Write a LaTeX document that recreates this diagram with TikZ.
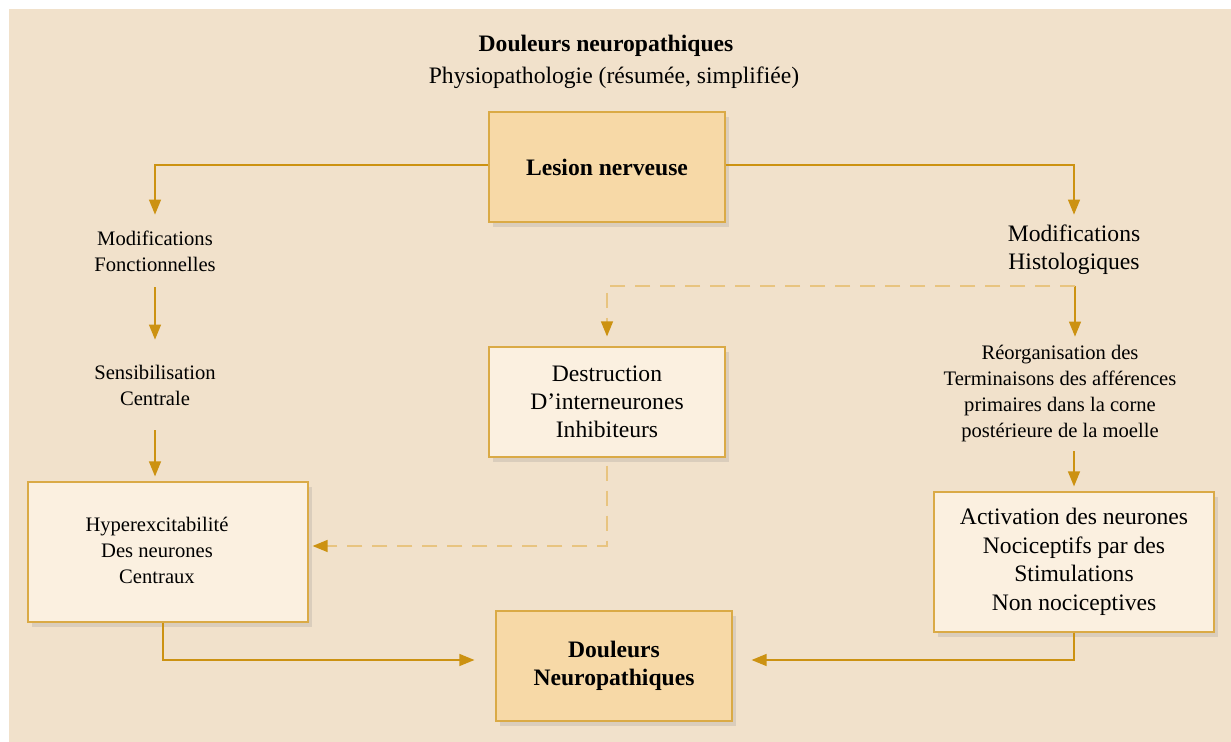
\documentclass[tikz,border=0pt]{standalone}
\usepackage{fontspec}
\setmainfont{Liberation Serif}
\usetikzlibrary{arrows.meta,positioning,shadows}
\definecolor{bgsand}{RGB}{241,225,203}
\definecolor{boxgold}{RGB}{247,217,167}
\definecolor{boxcream}{RGB}{251,240,224}
\definecolor{edgegold}{RGB}{218,170,70}
\definecolor{linegold}{RGB}{204,146,18}
\definecolor{dashgold}{RGB}{232,196,128}

\begin{document}
\begin{tikzpicture}[
  x=0.5pt, y=-0.5pt,
  keybox/.style={draw=edgegold, line width=0.6pt, fill=boxgold, align=center, minimum width=118pt, minimum height=55pt, font=\fontsize{11.8}{14}\selectfont\bfseries, drop shadow={shadow xshift=2pt, shadow yshift=-2.5pt, opacity=.2}},
  notebox/.style={keybox, fill=boxcream, font=\fontsize{11.8}{14}\selectfont},
  lbl/.style={align=center, inner sep=0pt, font=\fontsize{10.3}{13}\selectfont},
  link/.style={draw=linegold, line width=0.65pt, -{Triangle[width=6pt,length=7.5pt]}},
  dlink/.style={link, draw=dashgold, dash pattern=on 7.5pt off 5pt, -{Triangle[width=6pt,length=7.5pt,color=linegold]}},
]
\useasboundingbox (0,0) rectangle (1231,742);
\fill[white] (0,0) rectangle (1231,742);
\fill[bgsand] (9,9) rectangle (1231,742);

\node[font=\fontsize{11.8}{14}\selectfont\bfseries] (title) at (606,46) {Douleurs neuropathiques};
\node[font=\fontsize{11.8}{14}\selectfont, below=-2pt of title, xshift=4pt] (sub) {Physiopathologie (résumée, simplifiée)};

\node[keybox] (les) at (607,167) {Lesion nerveuse};
\node[lbl, minimum height=36pt] (modf) at (155,251) {Modifications\\Fonctionnelles};
\node[lbl, minimum height=35pt, font=\fontsize{11.8}{14}\selectfont] (modh) at (1074,250) {Modifications\\Histologiques};
\node[lbl, minimum height=45pt] (sens) at (155,385) {Sensibilisation\\Centrale};
\node[notebox] (destr) at (607,402) {Destruction\\D’interneurones\\Inhibiteurs};
\node[lbl, minimum height=57pt] (reorg) at (1060,394) {Réorganisation des\\Terminaisons des afférences\\primaires dans la corne\\postérieure de la moelle};
\node[notebox, minimum width=140pt, minimum height=70pt, font=\fontsize{10.3}{13}\selectfont] (hyper) at (168,552) {\raisebox{-2.5pt}{\begin{tabular}{@{}c@{}}Hyperexcitabilité\\Des neurones\\Centraux\end{tabular}}\hspace{11pt}};
\node[notebox, minimum width=140pt, minimum height=70pt, font=\fontsize{11.8}{14.25}\selectfont] (activ) at (1074,562) {Activation des neurones\\Nociceptifs par des\\Stimulations\\Non nociceptives};
\node[keybox] (doul) at (614,666) {Douleurs\\Neuropathiques};
\coordinate (split) at (1075,286);

\draw[link] ([yshift=1pt]les.west) -| (modf.north);
\draw[link] ([yshift=1pt]les.east) -| (modh.north);
\draw[link] (modf.south) -- (sens.north);
\draw[link, shorten >=2.5pt] (sens.south) -- (sens.south |- hyper.north);
\draw[link] (split) -- (split |- reorg.north);
\draw[dlink, shorten >=5pt] (split) -| (destr.north);
\draw[link, shorten >=2.5pt] (reorg.south -| activ.north) -- (activ.north);
\draw[dlink, shorten <=4pt, shorten >=2pt] (destr.south) |- ([yshift=3pt]hyper.east);
\draw[link, shorten >=10.5pt] ([xshift=-2.5pt]hyper.south) |- ([yshift=3pt]doul.west);
\draw[link, shorten >=9.5pt] (activ.south) |- ([yshift=3pt]doul.east);
\end{tikzpicture}
\end{document}
